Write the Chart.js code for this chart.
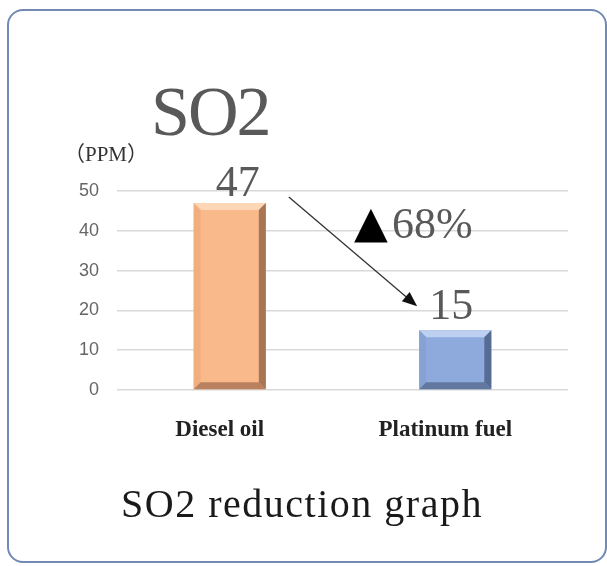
<!DOCTYPE html>
<html>
<head>
<meta charset="utf-8">
<title>SO2 reduction graph</title>
<script src="https://cdn.jsdelivr.net/npm/chart.js@4.4.1/dist/chart.umd.min.js"></script>
<style>
    html, body { margin: 0; padding: 0; background: #fff; }
    #wrap { position: relative; width: 607px; height: 566px; overflow: hidden; }
    #frame {
        position: absolute; left: 7px; top: 9px; width: 600px; height: 554px;
        box-sizing: border-box; border: 2px solid #7189b4; border-radius: 16px;
    }
    #so2-chart { position: absolute; left: 0; top: 0; }
</style>
</head>
<body>
<div id="wrap">
    <div id="frame"></div>
    <canvas id="so2-chart" width="607" height="566"></canvas>
</div>
<script>
// Chart data
const categories = ['Diesel oil', 'Platinum fuel'];
const so2Values = [47, 15];
const reductionLabel = '68%';
const unitLabel = '（PPM）';
const chartHeading = 'SO2';
const chartCaption = 'SO2 reduction graph';

// Bar colours: [face, top, left, right, bottom]
const barColours = [
    ['#f9b98a', '#fdd6b6', '#f3ae7e', '#a87555', '#b98160'],
    ['#8eaadc', '#bdd0f1', '#86a1d3', '#566c94', '#62789f']
];

// Draws the bevel, value labels, arrow and texts
const decorations = {
    id: 'decorations',
    afterDatasetsDraw(chart) {
        const ctx = chart.ctx;
        const bars = chart.getDatasetMeta(0).data;
        const b = 7;

        bars.forEach((bar, i) => {
            const p = bar.getProps(['x', 'y', 'base', 'width'], true);
            const l = p.x - p.width / 2, r = p.x + p.width / 2, t = p.y, bot = p.base;
            const c = barColours[i];
            const poly = (pts, col) => {
                ctx.beginPath();
                ctx.moveTo(pts[0][0], pts[0][1]);
                pts.slice(1).forEach(q => ctx.lineTo(q[0], q[1]));
                ctx.closePath();
                ctx.fillStyle = col;
                ctx.fill();
            };
            ctx.save();
            poly([[l, t], [r, t], [r - b, t + b], [l + b, t + b]], c[1]);
            poly([[l, t], [l + b, t + b], [l + b, bot - b], [l, bot]], c[2]);
            poly([[r, t], [r, bot], [r - b, bot - b], [r - b, t + b]], c[3]);
            poly([[l, bot], [r, bot], [r - b, bot - b], [l + b, bot - b]], c[4]);

            // value label
            ctx.font = '44px "Liberation Serif", serif';
            ctx.fillStyle = '#595959';
            ctx.textAlign = 'center';
            ctx.textBaseline = 'alphabetic';
            ctx.fillText(String(so2Values[i]), p.x + (i === 0 ? 8 : -4), t - (i === 0 ? 7 : 11));
            ctx.restore();
        });

        // arrow from first bar to second
        const a = bars[0].getProps(['x', 'y', 'width'], true);
        const z = bars[1].getProps(['x', 'y', 'width'], true);
        const x1 = a.x + a.width / 2 + 23, y1 = a.y - 6;
        const x2 = z.x - z.width / 2 - 2, y2 = z.y - 24;
        const ang = Math.atan2(y2 - y1, x2 - x1);
        ctx.save();
        ctx.strokeStyle = '#333';
        ctx.fillStyle = '#111';
        ctx.lineWidth = 1.3;
        ctx.beginPath();
        ctx.moveTo(x1, y1);
        ctx.lineTo(x2 - 10 * Math.cos(ang), y2 - 10 * Math.sin(ang));
        ctx.stroke();
        ctx.beginPath();
        ctx.moveTo(x2, y2);
        ctx.lineTo(x2 - 15 * Math.cos(ang) + 6 * Math.sin(ang), y2 - 15 * Math.sin(ang) - 6 * Math.cos(ang));
        ctx.lineTo(x2 - 15 * Math.cos(ang) - 6 * Math.sin(ang), y2 - 15 * Math.sin(ang) + 6 * Math.cos(ang));
        ctx.closePath();
        ctx.fill();

        // reduction label
        const mx = (x1 + x2) / 2, my = (y1 + y2) / 2;
        ctx.textAlign = 'left';
        ctx.textBaseline = 'alphabetic';
        ctx.fillStyle = '#000';
        ctx.font = '44px "DejaVu Sans", sans-serif';
        ctx.fillText('▲', mx + 1, my - 15);
        ctx.fillStyle = '#595959';
        ctx.font = '44px "Liberation Serif", serif';
        ctx.fillText(reductionLabel, mx + 39, my - 14);

        // heading, unit and caption
        ctx.fillStyle = '#595959';
        ctx.font = '70px "Liberation Serif", serif';
        ctx.letterSpacing = '-2px';
        ctx.fillText(chartHeading, 151, 135);
        ctx.letterSpacing = '0px';
        ctx.fillStyle = '#333';
        ctx.font = '21px "Liberation Serif", "Noto Sans CJK JP", serif';
        ctx.fillText(unitLabel, 64, 161);
        ctx.fillStyle = '#1a1a1a';
        ctx.font = '40px "Liberation Serif", serif';
        ctx.letterSpacing = '1.5px';
        ctx.textAlign = 'center';
        ctx.fillText(chartCaption, 302, 517);
        ctx.restore();
    }
};

const ctx = document.getElementById('so2-chart').getContext('2d');
const chart = new Chart(ctx, {
    type: 'bar',
    data: {
        labels: categories,
        datasets: [{
            data: so2Values,
            backgroundColor: barColours.map(c => c[0]),
            borderWidth: 0,
            barPercentage: 0.32,
            categoryPercentage: 1
        }]
    },
    options: {
        responsive: false,
        animation: false,
        layout: { padding: { top: 191, right: 39, bottom: 116, left: 0 } },
        plugins: {
            legend: { display: false },
            tooltip: { enabled: false }
        },
        scales: {
            x: {
                offset: true,
                grid: { display: false, drawTicks: false },
                border: { display: false },
                ticks: {
                    padding: 26,
                    labelOffset: -10,
                    color: '#222',
                    font: { family: '"Liberation Serif", serif', size: 23, weight: 'bold' }
                },
                afterFit: scale => { scale.height = 60; }
            },
            y: {
                min: 0,
                max: 50,
                ticks: {
                    stepSize: 10,
                    padding: 18,
                    color: '#666',
                    font: { family: '"Liberation Sans", Arial, sans-serif', size: 18 }
                },
                grid: { color: '#d9d9d9', lineWidth: 1.5, drawTicks: false },
                border: { display: false },
                afterFit: scale => { scale.width = 117; }
            }
        }
    },
    plugins: [decorations]
});
</script>
</body>
</html>
